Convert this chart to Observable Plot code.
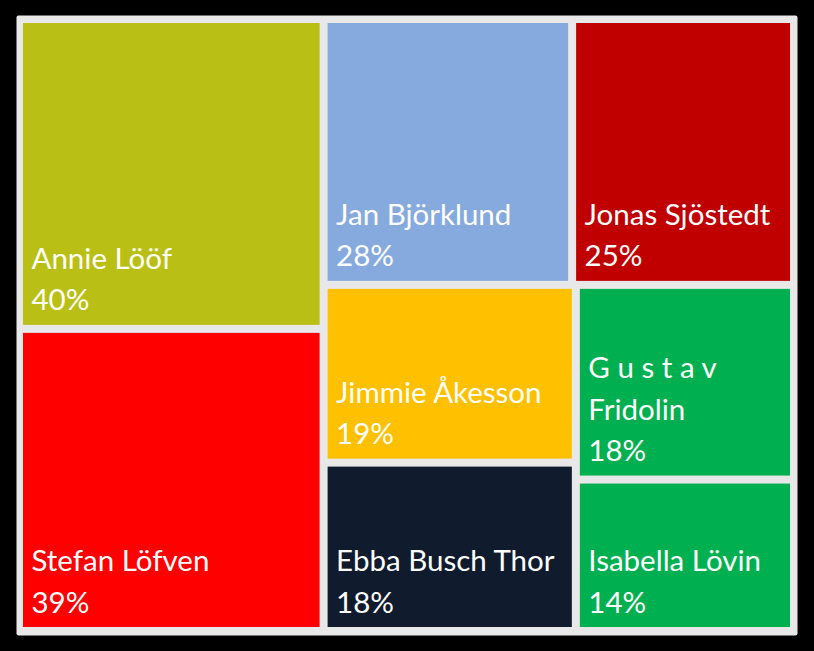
<!DOCTYPE html>
<html>
<head>
<meta charset="utf-8">
<script src="https://cdn.jsdelivr.net/npm/d3@7"></script>
<script src="https://cdn.jsdelivr.net/npm/@observablehq/plot@0.6"></script>
<style>
  html, body { margin: 0; padding: 0; background: #000; }
  #chart svg { display: block; }
</style>
</head>
<body>
<div id="chart"></div>
<script>
// ---- data ----
const names = ["Annie Lööf", "Stefan Löfven", "Jan Björklund", "Jonas Sjöstedt",
               "Jimmie Åkesson", "Ebba Busch Thor", "G u s t a v\nFridolin", "Isabella Lövin"];
const values = [40, 39, 28, 25, 19, 18, 18, 14];
const colors = ["#b9bf15", "#ff0000", "#86aadd", "#c00000",
                "#ffc000", "#101c2e", "#00b050", "#00b050"];
// grouping path used by the treemap layout
const groups = ["left", "left", "right/top", "right/top",
                "right/bottom/a", "right/bottom/a", "right/bottom/b", "right/bottom/b"];

// ---- build hierarchy ----
const rows = names.map((name, i) => ({name, value: values[i], color: colors[i], group: groups[i]}));
const tree = {key: "root", children: []};
rows.forEach(r => {
  let node = tree;
  for (const key of r.group.split("/")) {
    let c = node.children.find(c => c.key === key);
    if (!c) { c = {key, children: []}; node.children.push(c); }
    node = c;
  }
  node.children.push(r);
});

const W = 767, H = 604;
const root = d3.hierarchy(tree).sum(d => d.children ? 0 : d.value);
d3.treemap().tile(d3.treemapSliceDice).size([W, H]).paddingInner(8)(root);
const cells = root.leaves().map(l => ({...l.data, x0: l.x0, x1: l.x1, y0: l.y0, y1: l.y1}));

const chart = Plot.plot({
  width: 814,
  height: 651,
  marginLeft: 23, marginTop: 23, marginRight: 24, marginBottom: 24,
  x: {domain: [0, W], axis: null},
  y: {domain: [0, H], range: [23, 627], axis: null},
  color: {type: "identity"},
  style: {background: "#000", overflow: "visible"},
  marks: [
    Plot.frame({fill: "#e8e8e8", stroke: null, insetLeft: -7, insetRight: -7, insetTop: -8, insetBottom: -8, rx: 2}),
    Plot.rect(cells, {x1: "x0", x2: "x1", y1: "y0", y2: "y1", fill: "color"}),
    Plot.text(cells, {
      x: "x0", y: "y1", dx: 8, dy: -15,
      text: d => d.name + "\n" + d.value + "%",
      lineAnchor: "bottom", textAnchor: "start",
      fill: "white", fontSize: 29.5, lineHeight: 1.4,
      fontFamily: "Lato, 'Open Sans', sans-serif"
    })
  ]
});
document.getElementById("chart").appendChild(chart);
</script>
</body>
</html>
